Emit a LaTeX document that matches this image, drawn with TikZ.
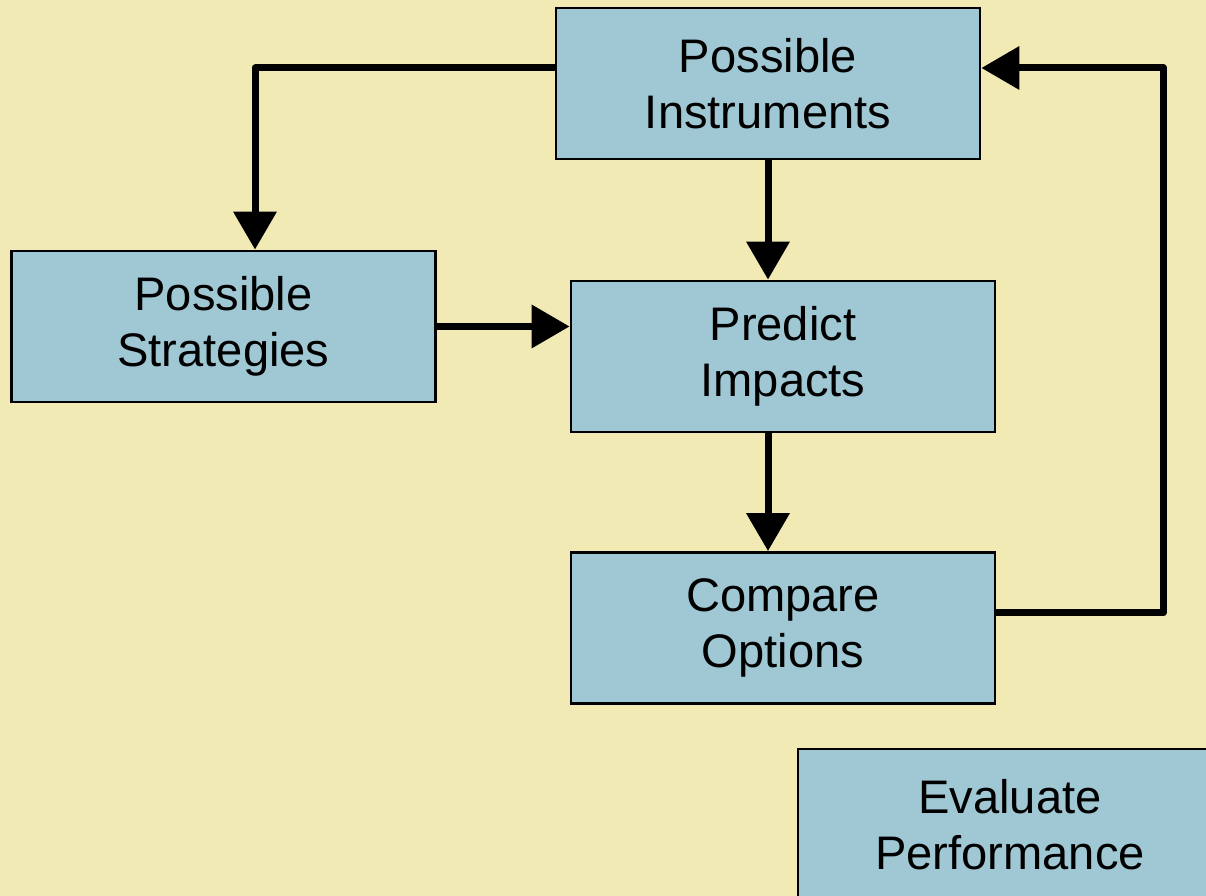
\documentclass[tikz,border=0pt]{standalone}
\usepackage{fontspec}
\setmainfont{Liberation Sans}
\usetikzlibrary{arrows.meta}
\usetikzlibrary{calc}

\definecolor{bgyellow}{RGB}{242,234,180}
\definecolor{boxblue}{RGB}{160,200,212}

\tikzset{
    stage/.style={draw=black,line width=0.8pt,fill=boxblue,minimum width=4.24cm,
        minimum height=1.51cm,align=center,font=\fontsize{13.4}{15.9}\selectfont},
    flow/.style={line width=0.07cm,line join=round,
        -{Triangle[length=0.38cm,width=0.42cm]}}
}

\begin{document}
\begin{tikzpicture}
                \useasboundingbox (0,0) rectangle (12.06,8.96);
                \clip (0,0) rectangle (12.06,8.96);
                \fill[bgyellow] (0,0) rectangle (12.06,8.96);

                \node[stage] (instr) at (7.68,8.125) {Possible\\Instruments};
                \node[stage] (strat) at (2.235,5.695) {Possible\\Strategies};
                \node[stage] (impact) at (7.83,5.395) {Predict\\Impacts};
                \node[stage] (compare) at (7.83,2.68) {Compare\\Options};
                \node[stage] (evaluate) at (10.10,0.715) {Evaluate\\Performance};

                \draw[flow] ([yshift=0.155cm]instr.west) -| ([xshift=0.315cm]strat.north);
                \draw[flow] (strat.east) -- (strat.east -| impact.west);
                \draw[flow] (instr.south) -- (instr.south |- impact.north);
                \draw[flow] (instr.south |- impact.south) -- (instr.south |- compare.north);
                \draw[flow] ([yshift=0.15cm]compare.east) -- ++(1.67,0)
                    |- ([yshift=0.155cm]instr.east);
            \end{tikzpicture}
\end{document}
